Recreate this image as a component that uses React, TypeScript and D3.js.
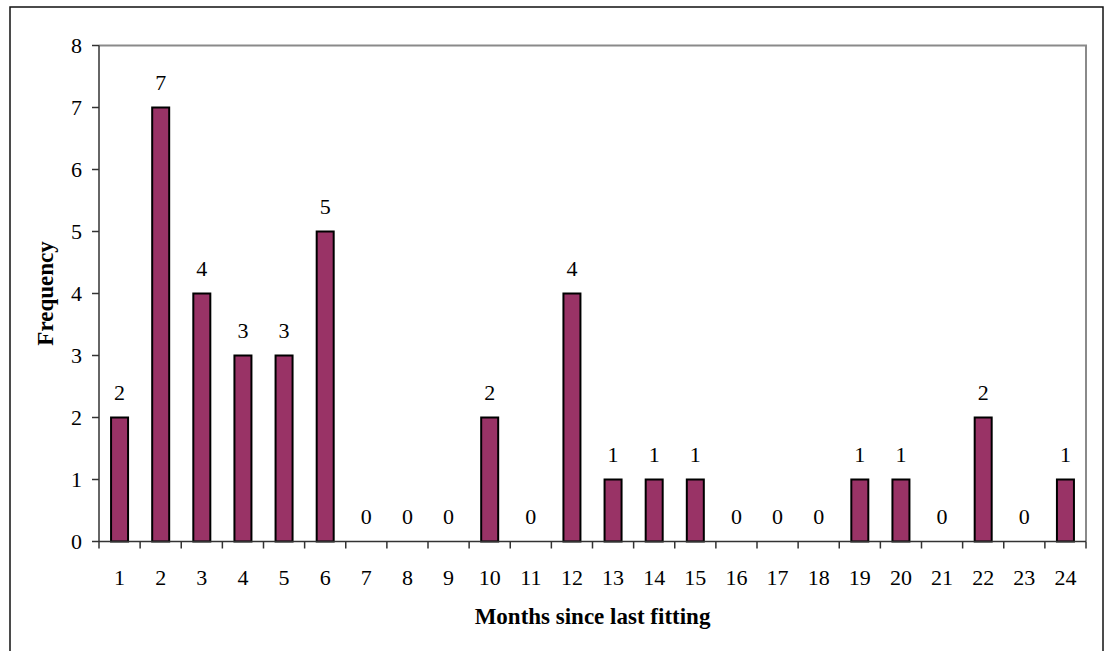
import React from "react";
import * as d3 from "d3";

const months = ["1","2","3","4","5","6","7","8","9","10","11","12","13","14","15","16","17","18","19","20","21","22","23","24"];
const frequency = [2,7,4,3,3,5,0,0,0,2,0,4,1,1,1,0,0,0,1,1,0,2,0,1];
const yTicks = [0,1,2,3,4,5,6,7,8];

export default function App() {
  const W = 1105, H = 651;
  const left = 99, right = 1086, top = 45.5, bottom = 541.5;
  const x = d3.scaleBand<string>().domain(months).range([left, right]).paddingInner(0).paddingOuter(0);
  const y = d3.scaleLinear().domain([0, 8]).range([bottom, top]);
  const bw = 17;
  const font = "'Liberation Serif', 'Times New Roman', serif";
  const fs = 22;
  const boundaries = d3.range(months.length + 1).map(i => left + i * x.bandwidth());
  return (
    <svg width={W} height={H} style={{ position: "absolute", left: 0, top: 0, background: "#fff" }} fontFamily={font}>
      <rect x={10} y={7} width={1093} height={700} fill="#fff" stroke="#111" strokeWidth={1.5} />
      <path d={`M${left},${top}H${right}V${bottom}`} fill="none" stroke="#8a8a8a" strokeWidth={2} />
      {frequency.map((v, i) => {
        const cx = (x(months[i]) as number) + x.bandwidth() / 2;
        return (
          <g key={i}>
            {v > 0 && (
              <rect x={cx - bw / 2} y={y(v)} width={bw} height={y(0) - y(v)} fill="#993366" stroke="#000" strokeWidth={2} />
            )}
            <text x={cx} y={y(v) - 17.5} textAnchor="middle" fontSize={fs} fill="#000">{v}</text>
          </g>
        );
      })}
      <line x1={left} x2={left} y1={top} y2={bottom} stroke="#333" strokeWidth={1.5} />
      {yTicks.map(t => (
        <g key={t}>
          <line x1={left - 7} x2={left} y1={y(t)} y2={y(t)} stroke="#333" strokeWidth={1.5} />
          <text x={82} y={y(t) + 7.5} textAnchor="end" fontSize={fs} fill="#000">{t}</text>
        </g>
      ))}
      <line x1={left} x2={right} y1={bottom} y2={bottom} stroke="#333" strokeWidth={1.5} />
      {boundaries.map((b, i) => (
        <line key={i} x1={b} x2={b} y1={bottom} y2={bottom + 7} stroke="#333" strokeWidth={1.5} />
      ))}
      {months.map(m => (
        <text key={m} x={(x(m) as number) + x.bandwidth() / 2} y={585} textAnchor="middle" fontSize={fs} fill="#000">{m}</text>
      ))}
      <text x={(left + right) / 2} y={624} textAnchor="middle" fontSize={23} fontWeight="bold" fill="#000">Months since last fitting</text>
      <text transform={`translate(53,${(top + bottom) / 2}) rotate(-90)`} textAnchor="middle" fontSize={23} fontWeight="bold" fill="#000">Frequency</text>
    </svg>
  );
}
